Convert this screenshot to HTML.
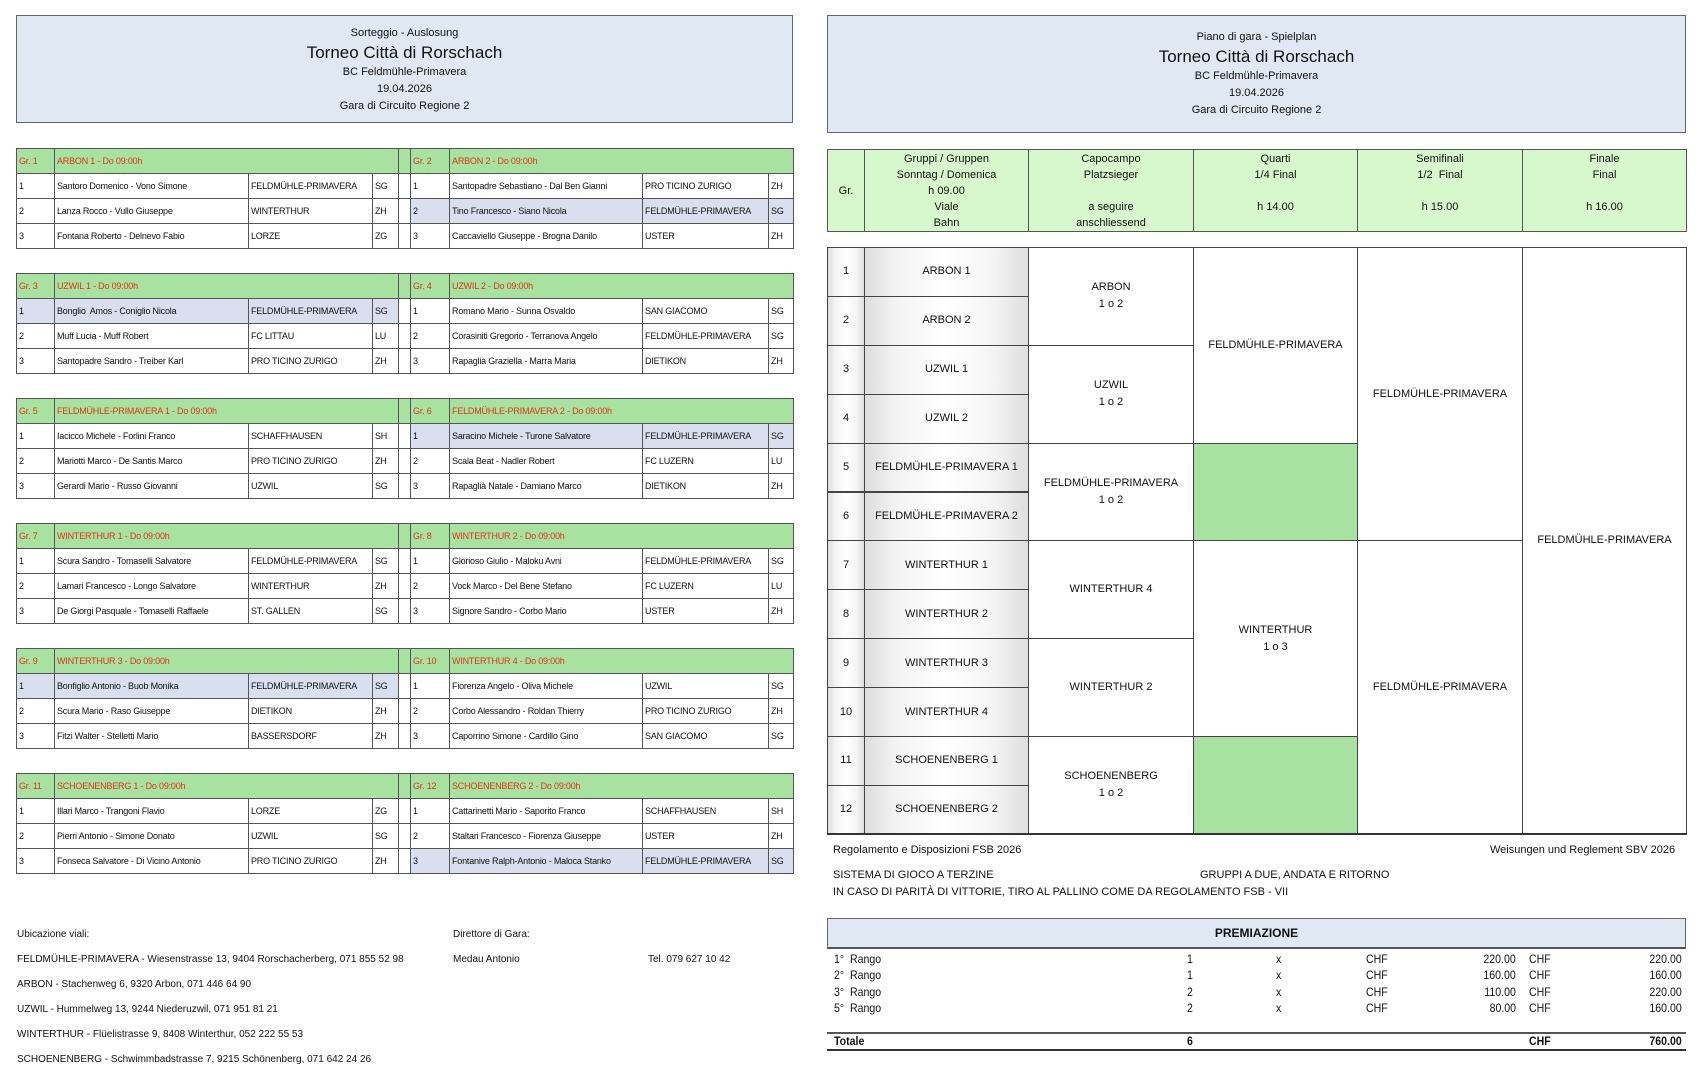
<!DOCTYPE html>
<html><head><meta charset="utf-8">
<style>
*{margin:0;padding:0;box-sizing:border-box}
body{width:1702px;height:1064px;background:#fff;position:relative;overflow:hidden;font-family:"Liberation Sans Narrow","Liberation Sans",sans-serif;color:#111}
.abs{position:absolute}
.hdr{background:#dfe8f3;border:1px solid #666;text-align:center;font-size:11px;line-height:17px}
.hdr .big{font-size:17px;line-height:22px}
table{border-collapse:collapse;table-layout:fixed;position:absolute}
td{border:1px solid #555;font-size:9px;height:25px;padding:0 2px;white-space:nowrap;overflow:hidden;letter-spacing:-0.2px}
tr.h td{background:#a8e2a0;color:#e0331c}
td.gap{background:#fff;border-top:1px solid #555;border-bottom:1px solid #555}
td.hl{background:#dadff0}
.ch td{background:#d6f8cc;text-align:center;font-size:11px;line-height:16px;height:82px;border:1px solid #555;letter-spacing:0}
.br{border:1px solid #444;position:absolute;display:flex;align-items:center;justify-content:center;text-align:center;font-size:11px;line-height:17px;background:#fff}
.lab{background:linear-gradient(90deg,#ddd 0,#f4f4f4 20%,#fff 50%,#f4f4f4 80%,#ddd 100%)}
.gn{background:#a8e2a0}
.t{position:absolute;font-size:10px;white-space:nowrap}
.p{position:absolute;font-family:"Liberation Sans",sans-serif;font-size:12px;white-space:nowrap;transform:scaleX(.88);transform-origin:left}
.pr{transform-origin:right}
</style></head><body>

<div class="abs hdr" style="left:16px;top:15px;width:777px;height:108px;padding-top:9px">
Sorteggio - Auslosung<br><span class="big">Torneo Città di Rorschach</span><br>BC Feldmühle-Primavera<br>19.04.2026<br>Gara di Circuito Regione 2</div>

<div id="groups"></div>

<div class="t" style="left:17px;top:929px">Ubicazione viali:</div>
<div class="t" style="left:17px;top:954px">FELDMÜHLE-PRIMAVERA - Wiesenstrasse 13, 9404 Rorschacherberg, 071 855 52 98</div>
<div class="t" style="left:17px;top:979px">ARBON - Stachenweg 6, 9320 Arbon, 071 446 64 90</div>
<div class="t" style="left:17px;top:1004px">UZWIL - Hummelweg 13, 9244 Niederuzwil, 071 951 81 21</div>
<div class="t" style="left:17px;top:1029px">WINTERTHUR - Flüelistrasse 9, 8408 Winterthur, 052 222 55 53</div>
<div class="t" style="left:17px;top:1054px">SCHOENENBERG - Schwimmbadstrasse 7, 9215 Schönenberg, 071 642 24 26</div>
<div class="t" style="left:453px;top:929px">Direttore di Gara:</div>
<div class="t" style="left:453px;top:954px">Medau Antonio</div>
<div class="t" style="left:648px;top:954px">Tel. 079 627 10 42</div>

<div class="abs hdr" style="left:827px;top:15px;width:859px;height:118px;padding-top:13px">
Piano di gara - Spielplan<br><span class="big">Torneo Città di Rorschach</span><br>BC Feldmühle-Primavera<br>19.04.2026<br>Gara di Circuito Regione 2</div>

<table class="ch" style="left:827px;top:149px;width:859px">
<colgroup><col style="width:37px"><col style="width:164px"><col style="width:165px"><col style="width:164px"><col style="width:165px"><col style="width:164px"></colgroup>
<tr><td>Gr.</td><td>Gruppi / Gruppen<br>Sonntag / Domenica<br>h 09.00<br>Viale<br>Bahn</td><td>Capocampo<br>Platzsieger<br>&nbsp;<br>a seguire<br>anschliessend</td><td>Quarti<br>1/4 Final<br>&nbsp;<br>h 14.00<br>&nbsp;</td><td>Semifinali<br>1/2&nbsp; Final<br>&nbsp;<br>h 15.00<br>&nbsp;</td><td>Finale<br>Final<br>&nbsp;<br>h 16.00<br>&nbsp;</td></tr>
</table>

<div id="bracket"></div>

<div class="t" style="left:833px;top:844px;font-size:11px">Regolamento e Disposizioni FSB 2026</div>
<div class="t" style="left:1490px;top:844px;font-size:11px">Weisungen und Reglement SBV 2026</div>
<div class="t" style="left:833px;top:869px;font-size:11px">SISTEMA DI GIOCO A TERZINE</div>
<div class="t" style="left:1200px;top:869px;font-size:11px">GRUPPI A DUE, ANDATA E RITORNO</div>
<div class="t" style="left:833px;top:886px;font-size:11px">IN CASO DI PARITÀ DI VITTORIE, TIRO AL PALLINO COME DA REGOLAMENTO FSB - VII</div>

<div class="abs" style="left:827px;top:918px;width:859px;height:31px;background:#dfe8f3;border:1px solid #666;border-bottom:2px solid #555;text-align:center;font-family:'Liberation Sans',sans-serif;font-weight:bold;font-size:12px;line-height:29px">PREMIAZIONE</div>
<div id="prem"></div>
<div class="abs" style="left:827px;top:1032px;width:859px;height:2px;background:#555"></div>
<div class="abs" style="left:827px;top:1049px;width:859px;height:2px;background:#333"></div>

<script>
(function(){
var G=[
["ARBON 1",[["Santoro Domenico - Vono Simone","FELDMÜHLE-PRIMAVERA","SG"],["Lanza Rocco - Vullo Giuseppe","WINTERTHUR","ZH"],["Fontana Roberto - Delnevo Fabio","LORZE","ZG"]],-1],
["ARBON 2",[["Santopadre Sebastiano - Dal Ben Gianni","PRO TICINO ZURIGO","ZH"],["Tino Francesco - Siano Nicola","FELDMÜHLE-PRIMAVERA","SG"],["Caccaviello Giuseppe - Brogna Danilo","USTER","ZH"]],1],
["UZWIL 1",[["Bonglio&nbsp; Amos - Coniglio Nicola","FELDMÜHLE-PRIMAVERA","SG"],["Muff Lucia - Muff Robert","FC LITTAU","LU"],["Santopadre Sandro - Treiber Karl","PRO TICINO ZURIGO","ZH"]],0],
["UZWIL 2",[["Romano Mario - Sunna Osvaldo","SAN GIACOMO","SG"],["Corasiniti Gregorio - Terranova Angelo","FELDMÜHLE-PRIMAVERA","SG"],["Rapaglià Graziella - Marra Maria","DIETIKON","ZH"]],-1],
["FELDMÜHLE-PRIMAVERA 1",[["Iacicco Michele - Forlini Franco","SCHAFFHAUSEN","SH"],["Mariotti Marco - De Santis Marco","PRO TICINO ZURIGO","ZH"],["Gerardi Mario - Russo Giovanni","UZWIL","SG"]],-1],
["FELDMÜHLE-PRIMAVERA 2",[["Saracino Michele - Turone Salvatore","FELDMÜHLE-PRIMAVERA","SG"],["Scala Beat - Nadler Robert","FC LUZERN","LU"],["Rapaglià Natale - Damiano Marco","DIETIKON","ZH"]],0],
["WINTERTHUR 1",[["Scura Sandro - Tomaselli Salvatore","FELDMÜHLE-PRIMAVERA","SG"],["Lamari Francesco - Longo Salvatore","WINTERTHUR","ZH"],["De Giorgi Pasquale - Tomaselli Raffaele","ST. GALLEN","SG"]],-1],
["WINTERTHUR 2",[["Glorioso Giulio - Maloku Avni","FELDMÜHLE-PRIMAVERA","SG"],["Vock Marco - Del Bene Stefano","FC LUZERN","LU"],["Signore Sandro - Corbo Mario","USTER","ZH"]],-1],
["WINTERTHUR 3",[["Bonfiglio Antonio - Buob Monika","FELDMÜHLE-PRIMAVERA","SG"],["Scura Mario - Raso Giuseppe","DIETIKON","ZH"],["Fitzi Walter - Stelletti Mario","BASSERSDORF","ZH"]],0],
["WINTERTHUR 4",[["Fiorenza Angelo - Oliva Michele","UZWIL","SG"],["Corbo Alessandro - Roldan Thierry","PRO TICINO ZURIGO","ZH"],["Caporrino Simone - Cardillo Gino","SAN GIACOMO","SG"]],-1],
["SCHOENENBERG 1",[["Illari Marco - Trangoni Flavio","LORZE","ZG"],["Pierri Antonio - Simone Donato","UZWIL","SG"],["Fonseca Salvatore - Di Vicino Antonio","PRO TICINO ZURIGO","ZH"]],-1],
["SCHOENENBERG 2",[["Cattarinetti Mario - Saporito Franco","SCHAFFHAUSEN","SH"],["Staltari Francesco - Fiorenza Giuseppe","USTER","ZH"],["Fontanive Ralph-Antonio - Maloca Stanko","FELDMÜHLE-PRIMAVERA","SG"]],2]];
var h="";
for(var b=0;b<6;b++){
 var yy=148+b*125,L=G[2*b],R=G[2*b+1];
 h+='<table style="left:16px;top:'+yy+'px;width:777px"><colgroup><col style="width:38px"><col style="width:194px"><col style="width:124px"><col style="width:26px"><col style="width:12px"><col style="width:39px"><col style="width:193px"><col style="width:126px"><col style="width:25px"></colgroup>';
 h+='<tr class="h"><td>Gr. '+(2*b+1)+'</td><td colspan="3">'+L[0]+' - Do 09:00h</td><td class="gap"></td><td>Gr. '+(2*b+2)+'</td><td colspan="3">'+R[0]+' - Do 09:00h</td></tr>';
 for(var r=0;r<3;r++){
  var cl=L[2]==r?' class="hl"':'',cr=R[2]==r?' class="hl"':'';
  h+='<tr><td'+cl+'>'+(r+1)+'</td><td'+cl+'>'+L[1][r][0]+'</td><td'+cl+'>'+L[1][r][1]+'</td><td'+cl+'>'+L[1][r][2]+'</td><td class="gap"></td><td'+cr+'>'+(r+1)+'</td><td'+cr+'>'+R[1][r][0]+'</td><td'+cr+'>'+R[1][r][1]+'</td><td'+cr+'>'+R[1][r][2]+'</td></tr>';
 }
 h+='</table>';
}
document.getElementById('groups').innerHTML=h;

var names=["ARBON 1","ARBON 2","UZWIL 1","UZWIL 2","FELDMÜHLE-PRIMAVERA 1","FELDMÜHLE-PRIMAVERA 2","WINTERTHUR 1","WINTERTHUR 2","WINTERTHUR 3","WINTERTHUR 4","SCHOENENBERG 1","SCHOENENBERG 2"];
var T=247,RH=48.9,x=[827,864,1028,1193,1357,1522,1686],s="";
function cell(c,r0,r1,txt,cls){var y=T+r0*RH,y2=T+r1*RH;s+='<div class="br '+(cls||'')+'" style="left:'+x[c]+'px;top:'+y+'px;width:'+(x[c+1]-x[c]+1)+'px;height:'+(y2-y+1)+'px">'+txt+'</div>';}
for(var i=0;i<12;i++){cell(0,i,i+1,(i+1),'lab');cell(1,i,i+1,names[i],'lab');}
cell(2,0,2,'ARBON<br>1 o 2');cell(2,2,4,'UZWIL<br>1 o 2');cell(2,4,6,'FELDMÜHLE-PRIMAVERA<br>1 o 2');cell(2,6,8,'WINTERTHUR 4');cell(2,8,10,'WINTERTHUR 2');cell(2,10,12,'SCHOENENBERG<br>1 o 2');
cell(3,0,4,'FELDMÜHLE-PRIMAVERA');cell(3,4,6,'','gn');cell(3,6,10,'WINTERTHUR<br>1 o 3');cell(3,10,12,'','gn');
cell(4,0,6,'FELDMÜHLE-PRIMAVERA');cell(4,6,12,'FELDMÜHLE-PRIMAVERA');
cell(5,0,12,'FELDMÜHLE-PRIMAVERA');
s+='<div class="abs" style="left:827px;top:833px;width:859px;height:2px;background:#333"></div>';
document.getElementById('bracket').innerHTML=s;

var P=[["1°&nbsp; Rango","1","220.00","220.00"],["2°&nbsp; Rango","1","160.00","160.00"],["3°&nbsp; Rango","2","110.00","220.00"],["5°&nbsp; Rango","2","80.00","160.00"]],q="";
for(var k=0;k<4;k++){var y=952+k*16.3;
q+='<div class="p" style="left:834px;top:'+y+'px">'+P[k][0]+'</div><div class="p" style="left:1187px;top:'+y+'px">'+P[k][1]+'</div><div class="p" style="left:1276px;top:'+y+'px">x</div><div class="p" style="left:1366px;top:'+y+'px">CHF</div><div class="p pr" style="right:186px;top:'+y+'px">'+P[k][2]+'</div><div class="p" style="left:1529px;top:'+y+'px">CHF</div><div class="p pr" style="right:20px;top:'+y+'px">'+P[k][3]+'</div>';}
q+='<div class="p" style="left:834px;top:1034px;font-weight:bold">Totale</div><div class="p" style="left:1187px;top:1034px;font-weight:bold">6</div><div class="p" style="left:1529px;top:1034px;font-weight:bold">CHF</div><div class="p pr" style="right:20px;top:1034px;font-weight:bold">760.00</div>';
document.getElementById('prem').innerHTML=q;
})();
</script>
</body></html>
